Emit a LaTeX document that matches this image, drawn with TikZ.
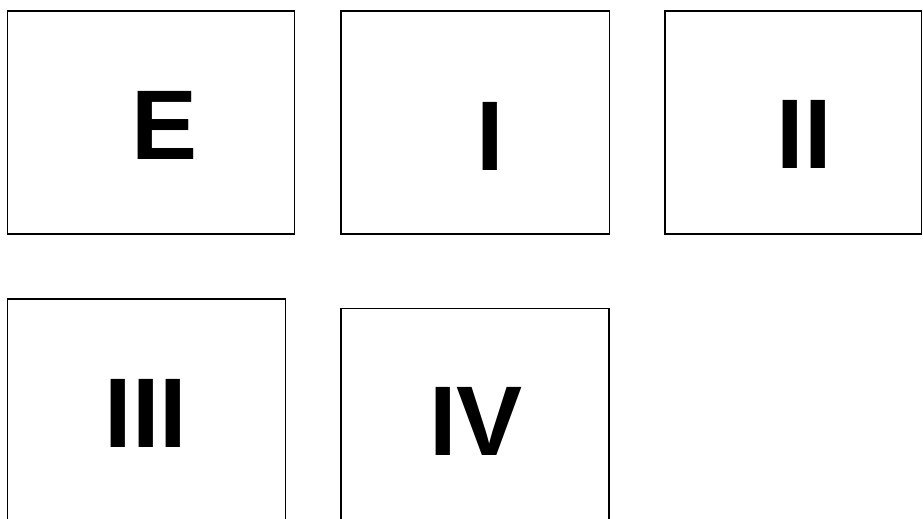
\documentclass[tikz,border=0pt]{standalone}
\usepackage{fontspec}
\setmainfont{Liberation Sans}
\begin{document}
\begin{tikzpicture}[x=1pt,y=-1pt,
  panel/.style={draw=black,line width=1.3pt},
  numeral/.style={anchor=base,inner sep=0pt,font=\fontsize{99}{99}\selectfont\bfseries}]
\clip (0,0) rectangle (923,519);
\useasboundingbox (0,0) rectangle (923,519);
\fill[white] (0,0) rectangle (923,519);
\draw[panel] (7.5,11) rectangle (294.5,234);
\draw[panel] (341,11) rectangle (609.5,234);
\draw[panel] (665,11) rectangle (921.5,234);
\draw[panel] (7.5,299) rectangle (285.5,540);
\draw[panel] (341,308.5) rectangle (609,540);
\node[numeral] (e) at (164.5,159) {E};
\node[numeral] (i) at (490,170) {I};
\node[numeral] (ii) at (804,168) {II};
\node[numeral] (iii) at (146,447) {III};
\node[numeral] (iv) at (476,455) {IV};
\end{tikzpicture}
\end{document}
